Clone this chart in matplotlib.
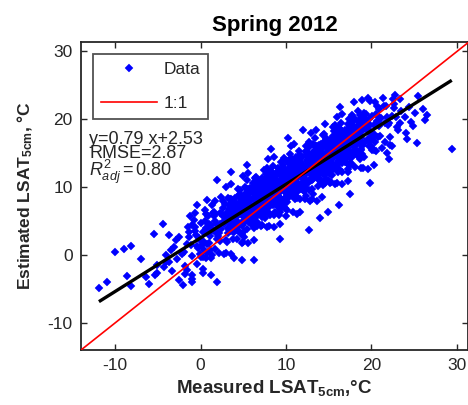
import matplotlib
matplotlib.use("Agg")
import matplotlib.pyplot as plt

plt.rcParams["font.family"] = ["Liberation Sans", "DejaVu Sans"]
plt.rcParams["mathtext.fontset"] = "custom"
plt.rcParams["mathtext.rm"] = "Liberation Sans"
plt.rcParams["mathtext.it"] = "Liberation Sans:italic"
plt.rcParams["mathtext.bf"] = "Liberation Sans:bold"
plt.rcParams["axes.unicode_minus"] = False

# ---- data: measured vs estimated LSAT at 5 cm (degC) ----
measured = [
    -11.9, -10.9, -10.0, -9.0, -8.2, -7.0, -8.6, -8.2, -6.4, -6.0,
    -5.1, -4.1, -3.7, -2.9, -3.1, -2.5, -0.6, -1.0, -2.5, -2.1,
    -1.0, -5.1, -4.3, -4.1, -5.3, -3.7, -4.4, -5.4, -1.0, 1.2,
    1.9, 4.9, 6.2, 3.9, 0.8, 1.9, 0.7, 9.3, 12.7, 14.0,
    14.9, 16.2, 19.8, 17.5, 8.2, 10.2, 14.6, 12.0, 16.3, 18.0,
    19.8, 3.5, 5.4, -3.3, -2.8, -3.5, -2.2, -1.6, -0.4, 0.3,
    25.5, 23.3, 26.5, 25.3, 22.0, 29.4, 24.1, 24.9, 23.3, 21.8,
    22.4, 23.5, 23.9, 24.4, 24.6, 25.1, 26.0, 23.1, 24.2, 26.3,
    -1.79, -1.34, -1.92, -1.48, -1.03, -1.61, -1.26, -1.85, -1.40, -1.12,
    -0.52, -0.09, -0.83, -0.37, -0.64, -0.98, -0.16, -0.71, -0.29, -0.45,
    0.85, 0.27, 0.63, 0.10, 0.46, 0.79, 0.31, 0.58, 0.02, 0.94,
    0.12, 0.57, 0.33, 0.81, 0.05, 0.69, 0.44, 0.93, 0.26, 0.75,
    1.48, 1.91, 1.17, 1.63, 1.36, 1.02, 1.84, 1.29, 1.71, 1.55,
    1.21, 1.66, 1.08, 1.52, 1.97, 1.39, 1.74, 1.15, 1.60, 1.88,
    2.85, 2.27, 2.63, 2.10, 2.46, 2.79, 2.31, 2.58, 2.02, 2.94,
    2.12, 2.57, 2.33, 2.81, 2.05, 2.69, 2.44, 2.93, 2.26, 2.75,
    3.48, 3.91, 3.17, 3.63, 3.36, 3.02, 3.84, 3.29, 3.71, 3.55,
    3.21, 3.66, 3.08, 3.52, 3.97, 3.39, 3.74, 3.15, 3.60, 3.88,
    4.48, 4.91, 4.17, 4.63, 4.36, 4.02, 4.84, 4.29, 4.71, 4.55,
    4.85, 4.27, 4.65, 4.10, 4.46, 4.79, 4.31, 4.58, 4.04, 4.94,
    5.12, 5.57, 5.33, 5.81, 5.05, 5.69, 5.44, 5.93, 5.26, 5.75,
    5.48, 5.91, 5.17, 5.63, 5.36, 5.02, 5.84, 5.29, 5.71, 5.55,
    5.21, 5.66, 5.08, 5.52, 5.97, 5.39, 5.74, 5.15, 5.60, 5.88,
    6.85, 6.27, 6.63, 6.10, 6.46, 6.79, 6.31, 6.58, 6.02, 6.94,
    6.12, 6.57, 6.33, 6.81, 6.05, 6.69, 6.44, 6.93, 6.26, 6.75,
    6.48, 6.91, 6.17, 6.64, 6.36, 6.04, 6.84, 6.29, 6.71, 6.55,
    7.21, 7.66, 7.08, 7.52, 7.97, 7.39, 7.74, 7.15, 7.60, 7.88,
    7.85, 7.27, 7.63, 7.10, 7.46, 7.79, 7.31, 7.58, 7.02, 7.94,
    7.12, 7.57, 7.33, 7.81, 7.05, 7.69, 7.44, 7.93, 7.26, 7.75,
    8.48, 8.91, 8.17, 8.63, 8.36, 8.02, 8.84, 8.29, 8.71, 8.55,
    8.21, 8.66, 8.08, 8.52, 8.97, 8.39, 8.74, 8.15, 8.60, 8.88,
    8.85, 8.27, 8.64, 8.10, 8.46, 8.79, 8.31, 8.58, 8.04, 8.94,
    9.12, 9.57, 9.33, 9.81, 9.05, 9.69, 9.44, 9.93, 9.26, 9.75,
    9.48, 9.91, 9.17, 9.63, 9.36, 9.02, 9.84, 9.29, 9.71, 9.55,
    9.21, 9.66, 9.08, 9.52, 9.97, 9.39, 9.74, 9.15, 9.60, 9.88,
    10.85, 10.27, 10.63, 10.10, 10.46, 10.79, 10.31, 10.58, 10.02, 10.94,
    10.12, 10.57, 10.33, 10.81, 10.05, 10.69, 10.44, 10.93, 10.26, 10.75,
    10.48, 10.91, 10.17, 10.64, 10.36, 10.03, 10.84, 10.29, 10.71, 10.55,
    11.21, 11.66, 11.08, 11.52, 11.97, 11.39, 11.74, 11.15, 11.60, 11.88,
    11.85, 11.27, 11.63, 11.10, 11.46, 11.79, 11.31, 11.58, 11.02, 11.94,
    11.12, 11.57, 11.33, 11.81, 11.05, 11.69, 11.44, 11.93, 11.26, 11.75,
    12.48, 12.91, 12.17, 12.63, 12.36, 12.02, 12.84, 12.29, 12.71, 12.55,
    12.21, 12.66, 12.08, 12.52, 12.97, 12.39, 12.74, 12.15, 12.60, 12.88,
    12.85, 12.27, 12.64, 12.10, 12.46, 12.79, 12.31, 12.58, 12.04, 12.94,
    13.12, 13.57, 13.33, 13.81, 13.05, 13.69, 13.44, 13.93, 13.26, 13.75,
    13.48, 13.91, 13.17, 13.63, 13.36, 13.02, 13.84, 13.29, 13.71, 13.55,
    13.21, 13.66, 13.08, 13.52, 13.97, 13.39, 13.74, 13.15, 13.60, 13.88,
    14.85, 14.27, 14.63, 14.10, 14.46, 14.79, 14.31, 14.58, 14.02, 14.94,
    14.12, 14.57, 14.33, 14.81, 14.05, 14.69, 14.44, 14.93, 14.26, 14.75,
    14.48, 14.91, 14.17, 14.64, 14.36, 14.03, 14.84, 14.29, 14.71, 14.55,
    15.21, 15.66, 15.08, 15.52, 15.97, 15.39, 15.74, 15.15, 15.60, 15.88,
    15.85, 15.27, 15.63, 15.10, 15.46, 15.79, 15.31, 15.58, 15.02, 15.94,
    15.12, 15.57, 15.33, 15.81, 15.05, 15.69, 15.44, 15.93, 15.26, 15.75,
    16.48, 16.91, 16.17, 16.63, 16.36, 16.02, 16.84, 16.29, 16.71, 16.55,
    16.21, 16.66, 16.08, 16.52, 16.97, 16.39, 16.74, 16.15, 16.60, 16.88,
    16.86, 16.27, 16.64, 16.10, 16.46, 16.79, 16.31, 16.58, 16.04, 16.94,
    17.12, 17.57, 17.33, 17.81, 17.05, 17.69, 17.44, 17.93, 17.26, 17.75,
    17.48, 17.91, 17.17, 17.63, 17.36, 17.02, 17.84, 17.29, 17.71, 17.55,
    17.21, 17.66, 17.08, 17.52, 17.97, 17.39, 17.74, 17.15, 17.60, 17.88,
    18.85, 18.27, 18.63, 18.10, 18.46, 18.79, 18.31, 18.58, 18.02, 18.94,
    18.12, 18.57, 18.33, 18.81, 18.05, 18.69, 18.44, 18.93, 18.26, 18.75,
    19.48, 19.91, 19.17, 19.63, 19.36, 19.02, 19.84, 19.29, 19.71, 19.55,
    19.21, 19.66, 19.08, 19.52, 19.97, 19.39, 19.74, 19.15, 19.60, 19.88,
    20.85, 20.27, 20.63, 20.10, 20.46, 20.79, 20.31, 20.58, 20.02, 20.94,
    20.12, 20.57, 20.33, 20.81, 20.05, 20.69, 20.44, 20.93, 20.26, 20.75,
    21.48, 21.91, 21.17, 21.63, 21.36, 21.02, 21.84, 21.29, 21.71, 21.55,
    22.21, 22.66, 22.08, 22.52, 22.97, 22.39, 22.74, 22.15, 22.60, 22.88,
    3.05, 3.38, 3.71, 3.94, 3.17, 3.52, 3.83, 3.29, 3.62, 3.46,
    3.33, 3.78, 3.09, 3.55, 3.90, 3.24, 3.67, 3.41, 3.13, 3.86,
    4.05, 4.38, 4.71, 4.94, 4.17, 4.52, 4.83, 4.29, 4.62, 4.46,
    4.33, 4.78, 4.09, 4.55, 4.90, 4.24, 4.67, 4.41, 4.13, 4.86,
    5.05, 5.38, 5.71, 5.94, 5.17, 5.52, 5.83, 5.29, 5.62, 5.46,
    5.33, 5.78, 5.09, 5.55, 5.90, 5.24, 5.67, 5.41, 5.13, 5.86,
    6.05, 6.38, 6.71, 6.94, 6.17, 6.52, 6.83, 6.29, 6.62, 6.46,
    6.33, 6.78, 6.09, 6.55, 6.90, 6.24, 6.67, 6.41, 6.13, 6.86,
    7.05, 7.38, 7.71, 7.94, 7.17, 7.52, 7.83, 7.29, 7.62, 7.46,
    7.33, 7.78, 7.09, 7.55, 7.90, 7.24, 7.67, 7.41, 7.13, 7.86,
    8.05, 8.38, 8.71, 8.94, 8.17, 8.52, 8.83, 8.29, 8.62, 8.46,
    8.33, 8.78, 8.09, 8.55, 8.90, 8.24, 8.67, 8.41, 8.13, 8.86,
    9.05, 9.38, 9.71, 9.94, 9.17, 9.52, 9.83, 9.29, 9.62, 9.46,
    9.33, 9.78, 9.09, 9.55, 9.90, 9.24, 9.67, 9.41, 9.13, 9.86,
    10.05, 10.38, 10.71, 10.94, 10.17, 10.52, 10.83, 10.29, 10.62, 10.46,
    10.33, 10.78, 10.09, 10.55, 10.90, 10.24, 10.67, 10.41, 10.13, 10.86,
    11.05, 11.38, 11.71, 11.94, 11.17, 11.52, 11.83, 11.29, 11.62, 11.46,
    11.33, 11.78, 11.09, 11.55, 11.90, 11.24, 11.67, 11.41, 11.13, 11.86,
    12.05, 12.38, 12.71, 12.94, 12.17, 12.52, 12.83, 12.29, 12.62, 12.46,
    12.33, 12.78, 12.09, 12.55, 12.90, 12.24, 12.67, 12.41, 12.13, 12.86,
    13.05, 13.38, 13.71, 13.94, 13.17, 13.52, 13.83, 13.29, 13.62, 13.46,
    13.33, 13.78, 13.09, 13.55, 13.90, 13.24, 13.67, 13.41, 13.13, 13.86,
    14.05, 14.38, 14.71, 14.94, 14.17, 14.52, 14.83, 14.29, 14.62, 14.46,
    14.33, 14.78, 14.09, 14.55, 14.90, 14.24, 14.67, 14.41, 14.13, 14.86,
    15.05, 15.38, 15.71, 15.94, 15.17, 15.52, 15.83, 15.29, 15.62, 15.46,
    15.33, 15.78, 15.09, 15.55, 15.90, 15.24, 15.67, 15.41, 15.13, 15.86,
    16.05, 16.38, 16.71, 16.94, 16.17, 16.52, 16.83, 16.29, 16.62, 16.46,
    16.33, 16.78, 16.09, 16.55, 16.90, 16.24, 16.67, 16.41, 16.13, 16.86,
    17.05, 17.38, 17.71, 17.94, 17.17, 17.52, 17.83, 17.29, 17.62, 17.46,
    17.33, 17.78, 17.09, 17.55, 17.90, 17.24, 17.67, 17.41, 17.13, 17.86,
    18.05, 18.38, 18.71, 18.94, 18.17, 18.52, 18.83, 18.29, 18.62, 18.46,
    18.33, 18.78, 18.09, 18.55, 18.90, 18.24, 18.67, 18.41, 18.13, 18.86,
]
estimated = [
    -4.9, -4.0, 0.4, 0.9, 1.4, -0.6, -3.1, -4.6, -3.3, -4.2,
    -2.6, 0.0, 3.0, 2.2, 1.2, 2.7, 6.2, 4.4, -3.7, -4.4,
    -4.0, -1.5, -1.7, -1.0, -3.0, -1.0, 4.5, 3.1, -3.5, -3.0,
    -4.0, -0.7, -0.7, -0.5, 0.3, 11.1, 8.1, 2.3, 3.7, 5.4,
    6.4, 7.4, 10.6, 9.0, 15.6, 17.3, 19.3, 18.5, 21.8, 22.6,
    22.7, 12.3, 13.2, -2.4, -0.6, 0.8, 0.2, -2.2, -1.3, -2.0,
    23.5, 23.0, 20.7, 16.5, 14.1, 15.7, 18.0, 19.0, 19.5, 15.1,
    16.0, 21.2, 20.3, 21.8, 19.6, 20.9, 21.5, 18.4, 17.1, 19.9,
    -2.8, 2.7, 0.5, 4.1, -0.1, 1.6, 5.7, -1.6, 3.4, 1.5,
    2.9, 0.2, 5.2, 1.3, 3.6, -2.9, 2.5, 4.2, 1.0, 7.3,
    5.7, 2.0, 4.0, -0.3, 6.7, 1.6, 3.4, -0.5, 4.7, 3.2,
    1.5, 5.0, -0.3, 3.7, 2.1, 6.1, 0.8, 4.6, -2.6, 4.0,
    6.2, 3.3, 4.4, 0.9, 7.4, 1.8, 4.6, 0.0, 6.1, 3.6,
    -0.4, 5.0, 2.8, 6.4, 2.3, 3.9, 8.0, 0.8, 5.7, 3.8,
    5.6, 2.1, 8.0, 3.3, 6.1, 0.1, 4.5, 6.9, 2.8, 10.1,
    0.3, 5.8, 3.8, 7.5, 2.3, 5.0, 8.6, 2.2, 6.2, 4.5,
    6.1, 3.4, 8.4, 4.5, 6.8, 0.3, 5.7, 7.4, 4.2, 10.5,
    4.0, 7.4, 1.9, 5.8, 5.3, 8.2, 3.5, 6.4, 0.1, 6.5,
    8.6, 5.7, 6.8, 3.3, 9.8, 4.2, 7.0, 2.4, 8.5, 6.0,
    7.2, 3.7, 9.6, 4.9, 7.7, 1.7, 6.1, 8.5, 4.4, 11.7,
    2.7, 8.2, 6.2, 9.9, 4.7, 7.4, 11.0, 4.6, 8.6, 6.9,
    7.7, 5.0, 10.0, 6.1, 8.4, 1.9, 7.3, 9.0, 5.8, 12.1,
    5.6, 9.0, 3.5, 7.4, 6.9, 9.8, 5.1, 8.0, 1.7, 8.1,
    10.5, 6.8, 8.8, 4.5, 11.5, 6.4, 8.2, 4.3, 9.5, 8.0,
    6.3, 9.8, 4.5, 8.5, 6.9, 10.9, 5.6, 9.4, 2.2, 8.8,
    10.2, 7.3, 8.4, 4.9, 11.4, 5.8, 8.6, 4.0, 10.1, 7.6,
    4.4, 9.8, 7.6, 11.2, 7.1, 8.7, 12.8, 5.6, 10.5, 8.6,
    9.6, 6.1, 12.0, 7.3, 10.1, 4.1, 8.5, 10.9, 6.8, 14.1,
    4.3, 9.8, 7.8, 11.5, 6.3, 9.0, 12.6, 6.2, 10.2, 8.5,
    10.1, 7.4, 12.4, 8.5, 10.8, 4.3, 9.7, 11.4, 8.2, 14.5,
    8.0, 11.4, 5.9, 9.8, 9.3, 12.2, 7.5, 10.4, 4.1, 10.5,
    12.1, 8.4, 10.4, 6.1, 13.1, 8.0, 9.8, 5.9, 11.1, 9.6,
    8.6, 12.1, 6.8, 10.8, 9.2, 13.2, 7.9, 11.7, 4.5, 11.1,
    12.5, 9.6, 10.7, 7.2, 13.7, 8.1, 10.9, 6.3, 12.4, 9.9,
    5.9, 11.3, 9.1, 12.7, 8.6, 10.2, 14.3, 7.1, 12.0, 10.1,
    11.9, 8.4, 14.3, 9.6, 12.4, 6.4, 10.8, 13.2, 9.1, 16.4,
    6.6, 12.1, 10.1, 13.8, 8.6, 11.3, 14.9, 8.5, 12.5, 10.8,
    11.6, 8.9, 13.9, 10.0, 12.3, 5.8, 11.2, 12.9, 9.7, 16.0,
    10.3, 13.7, 8.2, 12.1, 11.6, 14.5, 9.8, 12.7, 6.4, 12.8,
    14.4, 10.7, 12.7, 8.4, 15.4, 10.3, 12.1, 8.2, 13.4, 11.9,
    10.2, 13.7, 8.4, 12.4, 10.8, 14.8, 9.5, 13.3, 6.1, 12.7,
    14.9, 12.0, 13.1, 9.6, 16.1, 10.5, 13.3, 8.7, 14.8, 12.3,
    8.3, 13.7, 11.5, 15.1, 11.0, 12.6, 16.7, 9.5, 14.4, 12.5,
    13.5, 10.0, 15.9, 11.2, 14.0, 8.0, 12.4, 14.8, 10.7, 18.0,
    9.0, 14.5, 12.5, 16.2, 11.0, 13.7, 17.3, 10.9, 14.9, 13.2,
    14.0, 11.3, 16.3, 12.4, 14.7, 8.2, 13.6, 15.3, 12.1, 18.4,
    11.9, 15.3, 9.8, 13.7, 13.2, 16.1, 11.4, 14.3, 8.0, 14.4,
    16.8, 13.1, 15.1, 10.8, 17.8, 12.7, 14.5, 10.6, 15.8, 14.3,
    12.6, 16.1, 10.8, 14.8, 13.2, 17.2, 11.9, 15.7, 8.5, 15.1,
    16.5, 13.6, 14.7, 11.2, 17.7, 12.1, 14.9, 10.3, 16.4, 13.9,
    10.7, 16.1, 13.9, 17.5, 13.4, 15.0, 19.1, 11.9, 16.8, 14.9,
    15.9, 12.4, 18.3, 13.6, 16.4, 10.4, 14.8, 17.2, 13.1, 20.4,
    10.6, 16.1, 14.1, 17.8, 12.6, 15.3, 18.9, 12.5, 16.5, 14.8,
    16.4, 13.7, 18.7, 14.8, 17.1, 10.6, 16.0, 17.7, 14.5, 20.8,
    14.3, 17.7, 12.2, 16.1, 15.6, 18.5, 13.8, 16.7, 10.4, 16.8,
    18.4, 14.7, 16.7, 12.4, 19.4, 14.3, 16.1, 12.2, 17.4, 15.9,
    15.0, 18.5, 13.2, 17.2, 15.6, 19.6, 14.3, 18.1, 10.9, 17.5,
    18.9, 16.0, 17.1, 13.6, 20.1, 14.5, 17.3, 12.7, 18.8, 16.3,
    12.3, 17.7, 15.5, 19.1, 15.0, 16.6, 20.7, 13.5, 18.4, 16.5,
    18.3, 14.8, 20.7, 16.0, 18.8, 12.8, 17.2, 19.6, 15.5, 22.8,
    13.0, 18.5, 16.5, 20.2, 15.0, 17.7, 21.3, 14.9, 18.9, 17.2,
    18.7, 16.0, 21.0, 17.1, 19.4, 12.9, 18.3, 20.0, 16.8, 23.1,
    16.6, 20.0, 14.5, 18.4, 17.9, 20.8, 16.1, 19.0, 12.7, 19.1,
    21.5, 17.8, 19.8, 15.5, 22.5, 17.4, 19.2, 15.3, 20.5, 19.0,
    17.3, 20.8, 15.5, 19.5, 17.9, 21.9, 16.6, 20.4, 13.2, 19.8,
    22.0, 19.1, 20.2, 16.7, 23.2, 17.6, 20.4, 15.8, 21.9, 19.4,
    16.2, 21.6, 19.4, 23.0, 18.9, 20.5, 23.6, 17.4, 22.3, 20.4,
    6.2, 3.7, 5.8, 7.6, 3.3, 5.2, 6.7, 4.9, 8.1, 3.6,
    5.2, 2.3, 6.1, 8.2, 4.1, 5.8, 3.6, 6.1, 5.5, 6.9,
    8.4, 4.1, 6.0, 7.5, 5.7, 8.9, 4.4, 7.0, 4.5, 6.6,
    6.9, 6.3, 7.7, 6.0, 3.1, 6.9, 9.0, 4.9, 6.6, 4.4,
    8.3, 6.5, 9.7, 5.2, 7.8, 5.3, 7.4, 9.2, 4.9, 6.8,
    5.7, 7.4, 5.2, 7.7, 7.1, 8.5, 6.8, 3.9, 7.7, 9.8,
    6.0, 8.6, 6.1, 8.2, 10.0, 5.7, 7.6, 9.1, 7.3, 10.5,
    4.7, 8.5, 10.6, 6.5, 8.2, 6.0, 8.5, 7.9, 9.3, 7.6,
    9.0, 10.8, 6.5, 8.4, 9.9, 8.1, 11.3, 6.8, 9.4, 6.9,
    8.7, 10.1, 8.4, 5.5, 9.3, 11.4, 7.3, 9.0, 6.8, 9.3,
    9.2, 10.7, 8.9, 12.1, 7.6, 10.2, 7.7, 9.8, 11.6, 7.3,
    9.8, 7.6, 10.1, 9.5, 10.9, 9.2, 6.3, 10.1, 12.2, 8.1,
    12.8, 8.3, 10.9, 8.4, 10.5, 12.3, 8.0, 9.9, 11.4, 9.6,
    10.8, 12.9, 8.8, 10.5, 8.3, 10.8, 10.2, 11.6, 9.9, 7.0,
    9.2, 11.3, 13.1, 8.8, 10.7, 12.2, 10.4, 13.6, 9.1, 11.7,
    12.4, 10.7, 7.8, 11.6, 13.7, 9.6, 11.3, 9.1, 11.6, 11.0,
    9.6, 11.5, 13.0, 11.2, 14.4, 9.9, 12.5, 10.0, 12.1, 13.9,
    9.9, 12.4, 11.8, 13.2, 11.5, 8.6, 12.4, 14.5, 10.4, 12.1,
    12.0, 15.2, 10.7, 13.3, 10.8, 12.9, 14.7, 10.4, 12.3, 13.8,
    15.3, 11.2, 12.9, 10.7, 13.2, 12.6, 14.0, 12.3, 9.4, 13.2,
    14.1, 11.6, 13.7, 15.5, 11.2, 13.1, 14.6, 12.8, 16.0, 11.5,
    13.1, 10.2, 14.0, 16.1, 12.0, 13.7, 11.5, 14.0, 13.4, 14.8,
    16.3, 12.0, 13.9, 15.4, 13.6, 16.8, 12.3, 14.9, 12.4, 14.5,
    14.8, 14.2, 15.6, 13.9, 11.0, 14.8, 16.9, 12.8, 14.5, 12.3,
    16.2, 14.4, 17.6, 13.1, 15.7, 13.2, 15.3, 17.1, 12.8, 14.7,
    13.6, 15.3, 13.1, 15.6, 15.0, 16.4, 14.7, 11.8, 15.6, 17.7,
    13.9, 16.5, 14.0, 16.1, 17.9, 13.6, 15.5, 17.0, 15.2, 18.4,
    12.6, 16.4, 18.5, 14.4, 16.1, 13.9, 16.4, 15.8, 17.2, 15.5,
    16.9, 18.7, 14.4, 16.3, 17.8, 16.0, 19.2, 14.7, 17.3, 14.8,
    16.6, 18.0, 16.3, 13.4, 17.2, 19.3, 15.2, 16.9, 14.7, 17.2,
    17.1, 18.6, 16.8, 20.0, 15.5, 18.1, 15.6, 17.7, 19.5, 15.2,
    17.7, 15.5, 18.0, 17.4, 18.8, 17.1, 14.2, 18.0, 20.1, 16.0,
]

# regression statistics
slope, intercept = 0.79, 2.53
rmse = 2.87
r2_adj = 0.80

x_ticks = [-10, 0, 10, 20, 30]
y_ticks = [-10, 0, 10, 20, 30]
x_limits = (-14, 31.3)
y_limits = (-14, 31.4)

ink = "#262626"

fig = plt.figure(figsize=(4.68, 4.05), dpi=100)
ax = fig.add_axes([81 / 468, 1 - 350 / 405, 387 / 468, 308 / 405])

ax.plot(measured, estimated, linestyle="none", marker="D", markersize=3.9,
        markerfacecolor="#0000ff", markeredgecolor="#0000ff",
        markeredgewidth=0.3, label="Data", zorder=2)

x_fit = [min(measured), max(measured)]
y_fit = [slope * v + intercept for v in x_fit]
ax.plot(x_fit, y_fit, color="black", linewidth=2.4, zorder=3,
        solid_capstyle="butt")

ax.plot([x_limits[0], 35], [x_limits[0], 35], color="#ff0000",
        linewidth=1.2, label="1:1", zorder=4)

ax.set_xlim(*x_limits)
ax.set_ylim(*y_limits)
ax.set_xticks(x_ticks)
ax.set_yticks(y_ticks)
ax.tick_params(direction="in", length=4, width=1.0, colors=ink,
               labelsize=12.5, top=True, right=True, pad=6)
for sp in ax.spines.values():
    sp.set_color(ink)
    sp.set_linewidth(1.3)

ax.set_title("Spring 2012", fontsize=16, fontweight="bold", color="black",
             pad=8)
ax.set_xlabel(r"Measured LSAT$_{\mathbf{5cm}}$,°C", fontsize=13.5,
              fontweight="bold", color=ink, labelpad=3)
ax.set_ylabel(r"Estimated LSAT$_{\mathbf{5cm}}$, °C", fontsize=12.5,
              fontweight="bold", color=ink, labelpad=9)

leg = ax.legend(loc="upper left", fontsize=12.5, frameon=True, fancybox=False,
                handlelength=3.2, handletextpad=0.4, labelspacing=1.1,
                borderpad=0.45, borderaxespad=0.7, markerscale=1.0,
                numpoints=1)
leg.get_frame().set_edgecolor(ink)
leg.get_frame().set_linewidth(1.3)
for t in leg.get_texts():
    t.set_color(ink)

# fit statistics block, one text object with three lines
stats_text = (f"y={slope:.2f} x+{intercept:.2f}\n"
              f"RMSE={rmse:.2f}\n"
              r"$R^2_{adj}\mathit{=" + f"{r2_adj:.2f}" + "}$")
ax.text(0.021, 0.712, stats_text, transform=ax.transAxes,
        fontsize=13, color=ink, va="top", ha="left", linespacing=0.78)

fig.savefig("out.png", dpi=100)
